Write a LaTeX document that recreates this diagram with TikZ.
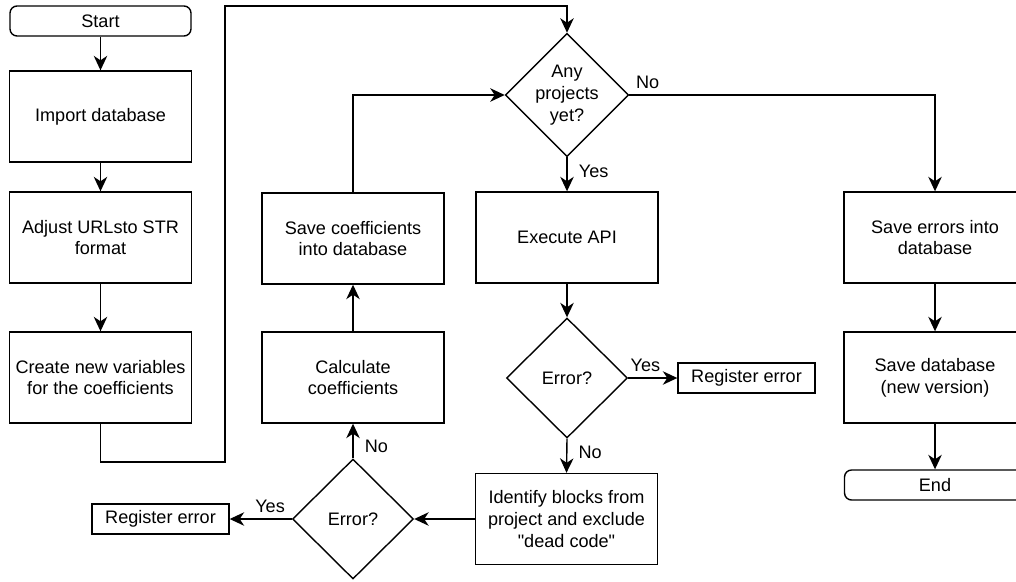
\documentclass[tikz,border=0pt]{standalone}
\usepackage{fontspec}
\setmainfont{Liberation Sans}[Ligatures=TeXOff]
\usetikzlibrary{arrows.meta,shapes.geometric}

\begin{document}
\begin{tikzpicture}[x=0.02cm, y=-0.02cm,
    font=\fontsize{10.3}{12.4}\selectfont,
    every path/.style={line width=0.8pt},
    box/.style={draw, rectangle, align=center, minimum width=3.64cm, minimum height=1.82cm, inner sep=2pt},
    term/.style={draw, rectangle, rounded corners=4pt, minimum width=3.62cm, minimum height=0.6cm},
    small/.style={draw, rectangle, minimum width=2.74cm, minimum height=0.6cm},
    decision/.style={draw, diamond, align=center, inner sep=0pt, minimum width=2.42cm, minimum height=2.3cm},
    flow/.style={-{Stealth[length=2.9mm, width=2.7mm, inset=0.9mm]}}]
    \useasboundingbox (0,0) rectangle (1016,581);

    % Left column
    \node[term] (start) at (100.5,21) {Start};
    \node[box] (import) at (100.5,116.5) {Import database};
    \node[box] (adjust) at (100.5,237.5) {Adjust URLsto STR\\format};
    \node[box] (create) at (100.5,377.5) {Create new variables\\for the coefficients};

    % Middle part
    \node[decision] (anyproj) at (567,95) {Any\\projects\\yet?};
    \node[box] (execute) at (567,237.5) {Execute API};
    \node[decision, minimum height=2.4cm] (errA) at (567,378) {Error?};
    \node[small] (regA) at (746.5,378) {Register error};
    \node[box] (identify) at (566.5,519) {Identify blocks from\\project and exclude\\"dead code"};
    \node[decision, minimum height=2.4cm] (errB) at (353,519) {Error?};
    \node[small] (regB) at (160.5,519) {Register error};
    \node[box] (calc) at (353,377.5) {Calculate\\coefficients};
    \node[box] (savecoef) at (353,238.5) {Save coefficients\\into database};

    % Right column
    \node[box] (saveerr) at (935,237.5) {Save errors into\\database};
    \node[box] (savedb) at (935,377.5) {Save database\\(new version)};
    \node[term] (end) at (935,485) {End};

    % Loop corners
    \coordinate (loopA) at (100.5,462);
    \coordinate (loopB) at (225,462);
    \coordinate (loopC) at (225,6);

    % Connectors
    \draw[flow] (start) -- (import);
    \draw[flow] (import) -- (adjust);
    \draw[flow] (adjust) -- (create);
    \draw[flow] (create.south) -- (loopA) -- (loopB) -- (loopC) -| (anyproj.north);
    \draw[flow] (anyproj.east) -- node[above, pos=0.06] {No} (saveerr.north |- anyproj.east) -- (saveerr.north);
    \draw[flow] (anyproj.south) -- node[right, pos=0.4, xshift=3pt] {Yes} (execute.north);
    \draw[flow] (execute) -- (errA.north);
    \draw[flow] (errA.east) -- node[above, pos=0.35] {Yes} (regA.west);
    \draw[flow] (errA.south) -- node[right, pos=0.4, xshift=3pt] {No} (identify.north);
    \draw[flow] (identify.west) -- (errB.east);
    \draw[flow] (errB.west) -- node[above, pos=0.35] {Yes} (regB.east);
    \draw[flow] (errB.north) -- node[right, pos=0.35, xshift=3pt] {No} (calc.south);
    \draw[flow] (calc) -- (savecoef);
    \draw[flow] (savecoef.north) |- (anyproj.west);
    \draw[flow] (saveerr) -- (savedb);
    \draw[flow] (savedb) -- (end);
\end{tikzpicture}
\end{document}
